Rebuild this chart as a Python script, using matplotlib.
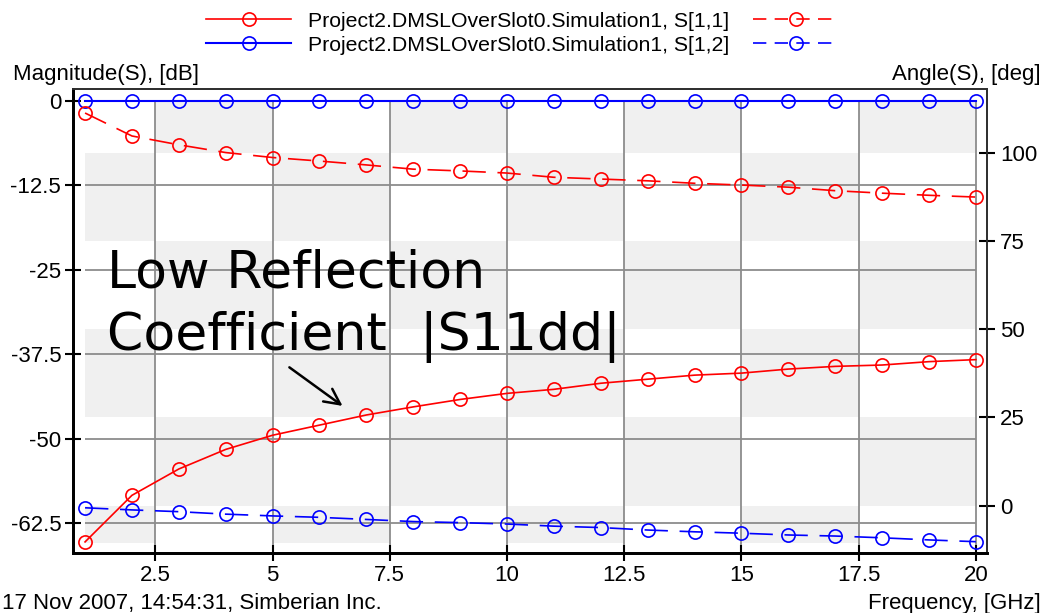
import matplotlib
matplotlib.use('Agg')
import matplotlib.pyplot as plt
from matplotlib.lines import Line2D
from matplotlib.patches import Rectangle

freq = [1, 2, 3, 4, 5, 6, 7, 8, 9, 10, 11, 12, 13, 14, 15, 16, 17, 18, 19, 20]

# magnitudes, dB (left axis)
s11_mag = [-65.3, -58.4, -54.5, -51.6, -49.5, -48.0, -46.5, -45.3, -44.2, -43.3,
           -42.7, -41.8, -41.2, -40.6, -40.3, -39.7, -39.3, -39.1, -38.6, -38.3]
s12_mag = [0.0, 0.0, 0.0, 0.0, 0.0, 0.0, 0.0, 0.0, 0.0, 0.0,
           0.0, 0.0, 0.0, 0.0, 0.0, 0.0, 0.0, 0.0, 0.0, 0.0]

# angles, deg (right axis)
s11_ang = [111.2, 104.7, 102.2, 100.0, 98.6, 97.6, 96.5, 95.3, 94.8, 94.2,
           93.0, 92.5, 92.0, 91.3, 90.8, 90.2, 89.2, 88.5, 87.9, 87.4]
s12_ang = [-0.6, -1.2, -1.7, -2.4, -2.9, -3.3, -3.9, -4.5, -4.8, -5.2,
           -5.8, -6.2, -6.9, -7.4, -7.8, -8.3, -8.6, -9.1, -9.7, -10.2]

x_ticks = [2.5, 5, 7.5, 10, 12.5, 15, 17.5, 20]
x_tick_labels = ['2.5', '5', '7.5', '10', '12.5', '15', '17.5', '20']
mag_ticks = [0, -12.5, -25, -37.5, -50, -62.5]
mag_tick_labels = ['0', '-12.5', '-25', '-37.5', '-50', '-62.5']
ang_ticks = [0, 25, 50, 75, 100]

# checkerboard background cells (x edges, angle edges)
shade_x = [1, 2.5, 5, 7.5, 10, 12.5, 15, 17.5, 20]
shade_ang = [114.5, 100, 75, 50, 25, 0, -10.6]

label_1 = 'Project2.DMSLOverSlot0.Simulation1, S[1,1]'
label_2 = 'Project2.DMSLOverSlot0.Simulation1, S[1,2]'

ui_font = ['Liberation Sans Narrow', 'Liberation Sans', 'DejaVu Sans']
plt.rcParams['font.family'] = ui_font
plt.rcParams['font.size'] = 16

RED = '#ff0000'
BLUE = '#0000ff'
GRID = '#8c8c8c'
SHADE = '#f0f0f0'

fig = plt.figure(figsize=(10.51, 6.13), dpi=100)
ax = fig.add_axes([0.0695, 0.0979, 0.8695, 0.7569])
ax_bg = ax.twinx()
ax2 = ax.twinx()
ax_bg.set_zorder(0)
ax.set_zorder(1)
ax2.set_zorder(2)
ax.patch.set_visible(False)
ax2.patch.set_visible(False)

xlim = (0.744, 20.235)
mag_lim = (-66.94, 1.78)
ang_lim = (-13.4, 118.0)
for a in (ax, ax_bg, ax2):
    a.set_xlim(*xlim)
ax.set_ylim(*mag_lim)
ax_bg.set_ylim(*ang_lim)
ax2.set_ylim(*ang_lim)

# background checkerboard
for r in range(len(shade_ang) - 1):
    for c in range(len(shade_x) - 1):
        if (r + c) % 2 == 1:
            ax_bg.add_patch(Rectangle((shade_x[c], shade_ang[r + 1]),
                                      shade_x[c + 1] - shade_x[c],
                                      shade_ang[r] - shade_ang[r + 1],
                                      facecolor=SHADE, edgecolor='none'))
ax_bg.axis('off')

# grid
ax.vlines(x_ticks, mag_lim[0], 0, colors=GRID, lw=1.3, zorder=1)
ax.hlines(mag_ticks, freq[0], freq[-1], colors=GRID, lw=1.3, zorder=1)

mk = dict(marker='o', markersize=9.5, markerfacecolor='none', markeredgewidth=1.2)
ax.plot(freq, s11_mag, color=RED, lw=1.2, zorder=3, **mk)
ax.plot(freq, s12_mag, color=BLUE, lw=1.5, zorder=3, **mk)
ax2.plot(freq, s11_ang, color=RED, lw=1.2, dashes=(14, 7), **mk)
ax2.plot(freq, s12_ang, color=BLUE, lw=1.2, dashes=(14, 7), **mk)

# ticks
ax.set_xticks(x_ticks)
ax.set_xticklabels(x_tick_labels)
ax.set_yticks(mag_ticks)
ax.set_yticklabels(mag_tick_labels)
ax2.set_yticks(ang_ticks)
ax.tick_params(axis='both', direction='inout', length=11, width=1.5, pad=3)
ax2.tick_params(axis='y', direction='inout', length=11, width=1.5, pad=4)

for a in (ax, ax2):
    for side in ('top', 'right'):
        a.spines[side].set_color('#303030')
        a.spines[side].set_linewidth(1.3)
    for side in ('left', 'bottom'):
        a.spines[side].set_color('black')
        a.spines[side].set_linewidth(2.0)

# annotation
ax.text(1.47, -21.9, 'Low Reflection\nCoefficient  |S11dd|', family='DejaVu Sans',
        fontsize=37.5, ha='left', va='top', linespacing=1.3, zorder=5)
ax.annotate('', xy=(6.54, -45.4), xytext=(5.31, -39.2),
            arrowprops=dict(arrowstyle='->', lw=1.8, color='black', mutation_scale=28),
            zorder=5)

# axis captions
fig.text(0.012, 0.878, 'Magnitude(S), [dB]', ha='left', va='center')
fig.text(0.990, 0.878, 'Angle(S), [deg]', ha='right', va='center')
fig.text(0.002, 0.016, '17 Nov 2007, 14:54:31, Simberian Inc.', ha='left', va='center')
fig.text(0.990, 0.016, 'Frequency, [GHz]', ha='right', va='center')

# legend: solid sample, label, dashed sample
h = [Line2D([], [], color=RED, lw=1.2, **mk),
     Line2D([], [], color=BLUE, lw=1.5, **mk),
     Line2D([], [], color=RED, lw=1.2, dashes=(8, 5), **mk),
     Line2D([], [], color=BLUE, lw=1.2, dashes=(8, 5), **mk)]
fig.legend(h, [label_1, label_2, '', ''], ncol=2, loc='upper center',
           bbox_to_anchor=(0.505, 0.995), frameon=False, numpoints=1,
           fontsize=15.3, handlelength=4.0, handletextpad=0.8, columnspacing=1.1,
           labelspacing=0.25, borderaxespad=0.0)

fig.savefig('out.png', dpi=100)
